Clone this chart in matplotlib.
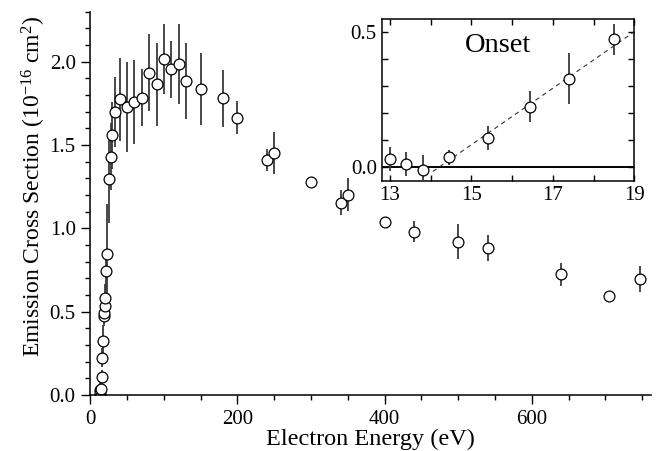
import matplotlib
matplotlib.use("Agg")
import matplotlib.pyplot as plt
from matplotlib.ticker import MultipleLocator, FixedLocator, FormatStrFormatter

plt.rcParams["font.family"] = ["Liberation Serif", "DejaVu Serif"]
plt.rcParams["mathtext.default"] = "regular"
plt.rcParams["axes.unicode_minus"] = False

# electron energy (eV), emission cross section (1e-16 cm^2), error
energy = [13.0, 13.4, 13.8, 14.45, 15.4, 16.45, 17.4, 18.5, 19.2, 19.5, 20.0, 21.0, 22.0,
          25.0, 27.5, 29.0, 34, 40, 50, 60, 70, 80, 90, 100, 110, 120, 130, 150, 180, 200,
          240, 250, 300, 340, 350, 400, 440, 500, 540, 640, 705, 747]
cross = [0.030, 0.012, -0.010, 0.037, 0.107, 0.224, 0.326, 0.472, 0.490, 0.534, 0.584, 0.746, 0.846,
         1.294, 1.430, 1.558, 1.700, 1.774, 1.726, 1.758, 1.784, 1.934, 1.864, 2.014, 1.954, 1.984, 1.884, 1.836, 1.780, 1.664,
         1.408, 1.454, 1.278, 1.154, 1.202, 1.038, 0.980, 0.920, 0.882, 0.724, 0.596, 0.698]
err = [0.045, 0.043, 0.055, 0.028, 0.044, 0.057, 0.094, 0.057, 0.05, 0.06, 0.08, 0.12, 0.30,
       0.26, 0.20, 0.20, 0.21, 0.25, 0.27, 0.25, 0.17, 0.23, 0.25, 0.21, 0.17, 0.24, 0.23, 0.215, 0.17, 0.10,
       0.066, 0.125, 0.02, 0.076, 0.10, 0.02, 0.062, 0.106, 0.078, 0.071, 0.02, 0.078]

# linear onset fit shown in the inset
fit_e = [14.05, 19.0]
fit_val = [-0.015, 0.50]

fig = plt.figure(figsize=(6.56, 4.51), dpi=100)
ax = fig.add_axes([0.1377, 0.1242, 0.8547, 0.8498])

ax.errorbar(energy, cross, yerr=err, fmt="o", ms=7.8, mfc="white", mec="black", mew=0.9,
            ecolor="#3a3a3a", elinewidth=1.3, capsize=0)
ax.set_xlim(0, 762)
ax.set_ylim(0, 2.3)
ax.spines["top"].set_visible(False)
ax.spines["right"].set_visible(False)
for s in ["left", "bottom"]:
    ax.spines[s].set_linewidth(1.1)
ax.xaxis.set_major_locator(MultipleLocator(200))
ax.xaxis.set_minor_locator(MultipleLocator(50))
ax.yaxis.set_major_locator(MultipleLocator(0.5))
ax.yaxis.set_minor_locator(MultipleLocator(0.1))
ax.yaxis.set_major_formatter(FormatStrFormatter("%.1f"))
ax.tick_params(which="major", direction="out", length=6.5, width=1.0, labelsize=15, pad=4)
ax.tick_params(which="minor", direction="out", length=3.5, width=1.0)
ax.set_xlabel("Electron Energy (eV)", fontsize=17.5, labelpad=0)
ax.set_ylabel("Emission Cross Section (10$^{-16}$ cm$^{2}$)", fontsize=17)
ax.yaxis.set_label_coords(-0.075, 0.545)

# inset: onset region
axi = fig.add_axes([0.5828, 0.5993, 0.3841, 0.3586])
axi.errorbar(energy, cross, yerr=err, fmt="o", ms=7.8, mfc="white", mec="black", mew=0.9,
             ecolor="#3a3a3a", elinewidth=1.3, capsize=0, zorder=3)
axi.plot(fit_e, fit_val, ls=(0, (4, 3.5)), color="#333333", lw=0.8, zorder=2)
axi.axhline(0, color="black", lw=1.4, zorder=1)
axi.set_xlim(12.81, 19.0)
axi.set_ylim(-0.049, 0.547)
axi.xaxis.set_major_locator(FixedLocator([13, 15, 17, 19]))
axi.xaxis.set_minor_locator(FixedLocator([14, 16, 18]))
axi.yaxis.set_major_locator(FixedLocator([0.0, 0.5]))
axi.yaxis.set_minor_locator(MultipleLocator(0.1))
axi.yaxis.set_major_formatter(FormatStrFormatter("%.1f"))
axi.tick_params(which="both", direction="in", top=True, right=True, length=4, width=1.0,
                labelsize=15, pad=4)
for s in axi.spines.values():
    s.set_linewidth(1.1)
axi.text(0.459, 0.835, "Onset", transform=axi.transAxes, ha="center", va="center", fontsize=20.5)

fig.savefig("out.png", dpi=100)
